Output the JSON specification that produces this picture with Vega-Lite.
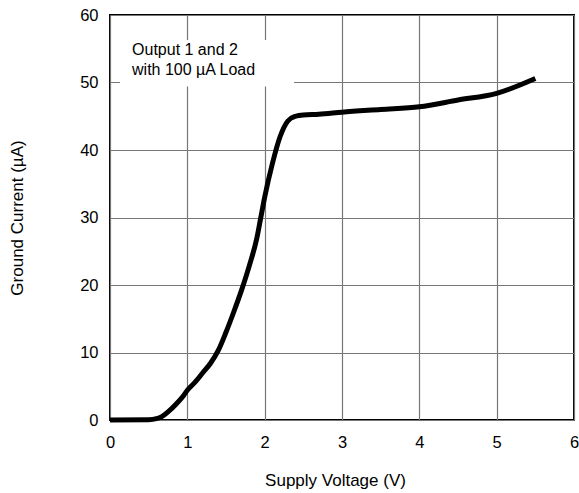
{
  "$schema": "https://vega.github.io/schema/vega-lite/v6.json",
  "width": 464,
  "height": 405,
  "autosize": "none",
  "padding": {"left": 110, "top": 15, "right": 5, "bottom": 73},
  "background": "white",
  "config": {
    "font": "Liberation Sans",
    "view": {"stroke": "black", "strokeWidth": 2},
    "axis": {
      "grid": true,
      "gridColor": "#777777",
      "gridWidth": 1.2,
      "gridOpacity": 1,
      "domain": false,
      "ticks": false,
      "labelFontSize": 16.5,
      "labelColor": "black",
      "labelFlush": false,
      "labelOverlap": false,
      "format": "d",
      "titleFontSize": 17,
      "titleFontWeight": "normal",
      "titleColor": "black"
    }
  },
  "datasets": {
    "curve": [
      {"v": 0, "i": 0}, {"v": 0.5, "i": 0.05}, {"v": 0.6, "i": 0.2}, {"v": 0.67, "i": 0.5},
      {"v": 0.75, "i": 1.2}, {"v": 0.85, "i": 2.3}, {"v": 0.95, "i": 3.6}, {"v": 1.0, "i": 4.4},
      {"v": 1.1, "i": 5.6}, {"v": 1.2, "i": 7.0}, {"v": 1.3, "i": 8.4}, {"v": 1.4, "i": 10.3},
      {"v": 1.5, "i": 13.0}, {"v": 1.6, "i": 16.0}, {"v": 1.7, "i": 19.2}, {"v": 1.8, "i": 22.8},
      {"v": 1.9, "i": 27.0}, {"v": 1.95, "i": 30.0}, {"v": 2.0, "i": 33.0}, {"v": 2.1, "i": 38.0},
      {"v": 2.2, "i": 42.0}, {"v": 2.3, "i": 44.3}, {"v": 2.4, "i": 45.0}, {"v": 2.5, "i": 45.2},
      {"v": 2.7, "i": 45.3}, {"v": 3.0, "i": 45.6}, {"v": 3.5, "i": 46.0}, {"v": 4.0, "i": 46.4},
      {"v": 4.5, "i": 47.4}, {"v": 5.0, "i": 48.4}, {"v": 5.5, "i": 50.6}
    ],
    "box": [{"x1": 0.13, "x2": 2.38, "y1": 49.4, "y2": 56.3}],
    "notes": [
      {"x": 0.285, "y": 54.8, "t": "Output 1 and 2"},
      {"x": 0.285, "y": 51.8, "t": "with 100 µA Load"}
    ]
  },
  "layer": [
    {
      "data": {"name": "curve"},
      "mark": {"type": "line", "color": "black", "strokeWidth": 5, "opacity": 0},
      "encoding": {
        "x": {"field": "v", "type": "quantitative", "scale": {"domain": [0, 6], "nice": false},
              "axis": {"values": [0,1,2,3,4,5,6], "title": "Supply Voltage (V)", "labelPadding": 14, "titlePadding": 22, "titleX": 225}},
        "y": {"field": "i", "type": "quantitative", "scale": {"domain": [0, 60], "nice": false},
              "axis": {"values": [0,10,20,30,40,50,60], "title": "Ground Current (µA)", "labelPadding": 12, "titlePadding": 53}}
      }
    },
    {
      "data": {"name": "box"},
      "mark": {"type": "rect", "fill": "white"},
      "encoding": {
        "x": {"field": "x1", "type": "quantitative"},
        "x2": {"field": "x2"},
        "y": {"field": "y1", "type": "quantitative"},
        "y2": {"field": "y2"}
      }
    },
    {
      "data": {"name": "notes"},
      "mark": {"type": "text", "align": "left", "baseline": "middle", "fontSize": 16, "color": "black"},
      "encoding": {
        "x": {"field": "x", "type": "quantitative"},
        "y": {"field": "y", "type": "quantitative"},
        "text": {"field": "t"}
      }
    },
    {
      "data": {"name": "curve"},
      "mark": {"type": "line", "color": "black", "strokeWidth": 5, "strokeJoin": "round", "strokeCap": "butt", "interpolate": "monotone"},
      "encoding": {
        "x": {"field": "v", "type": "quantitative"},
        "y": {"field": "i", "type": "quantitative"}
      }
    }
  ]
}
